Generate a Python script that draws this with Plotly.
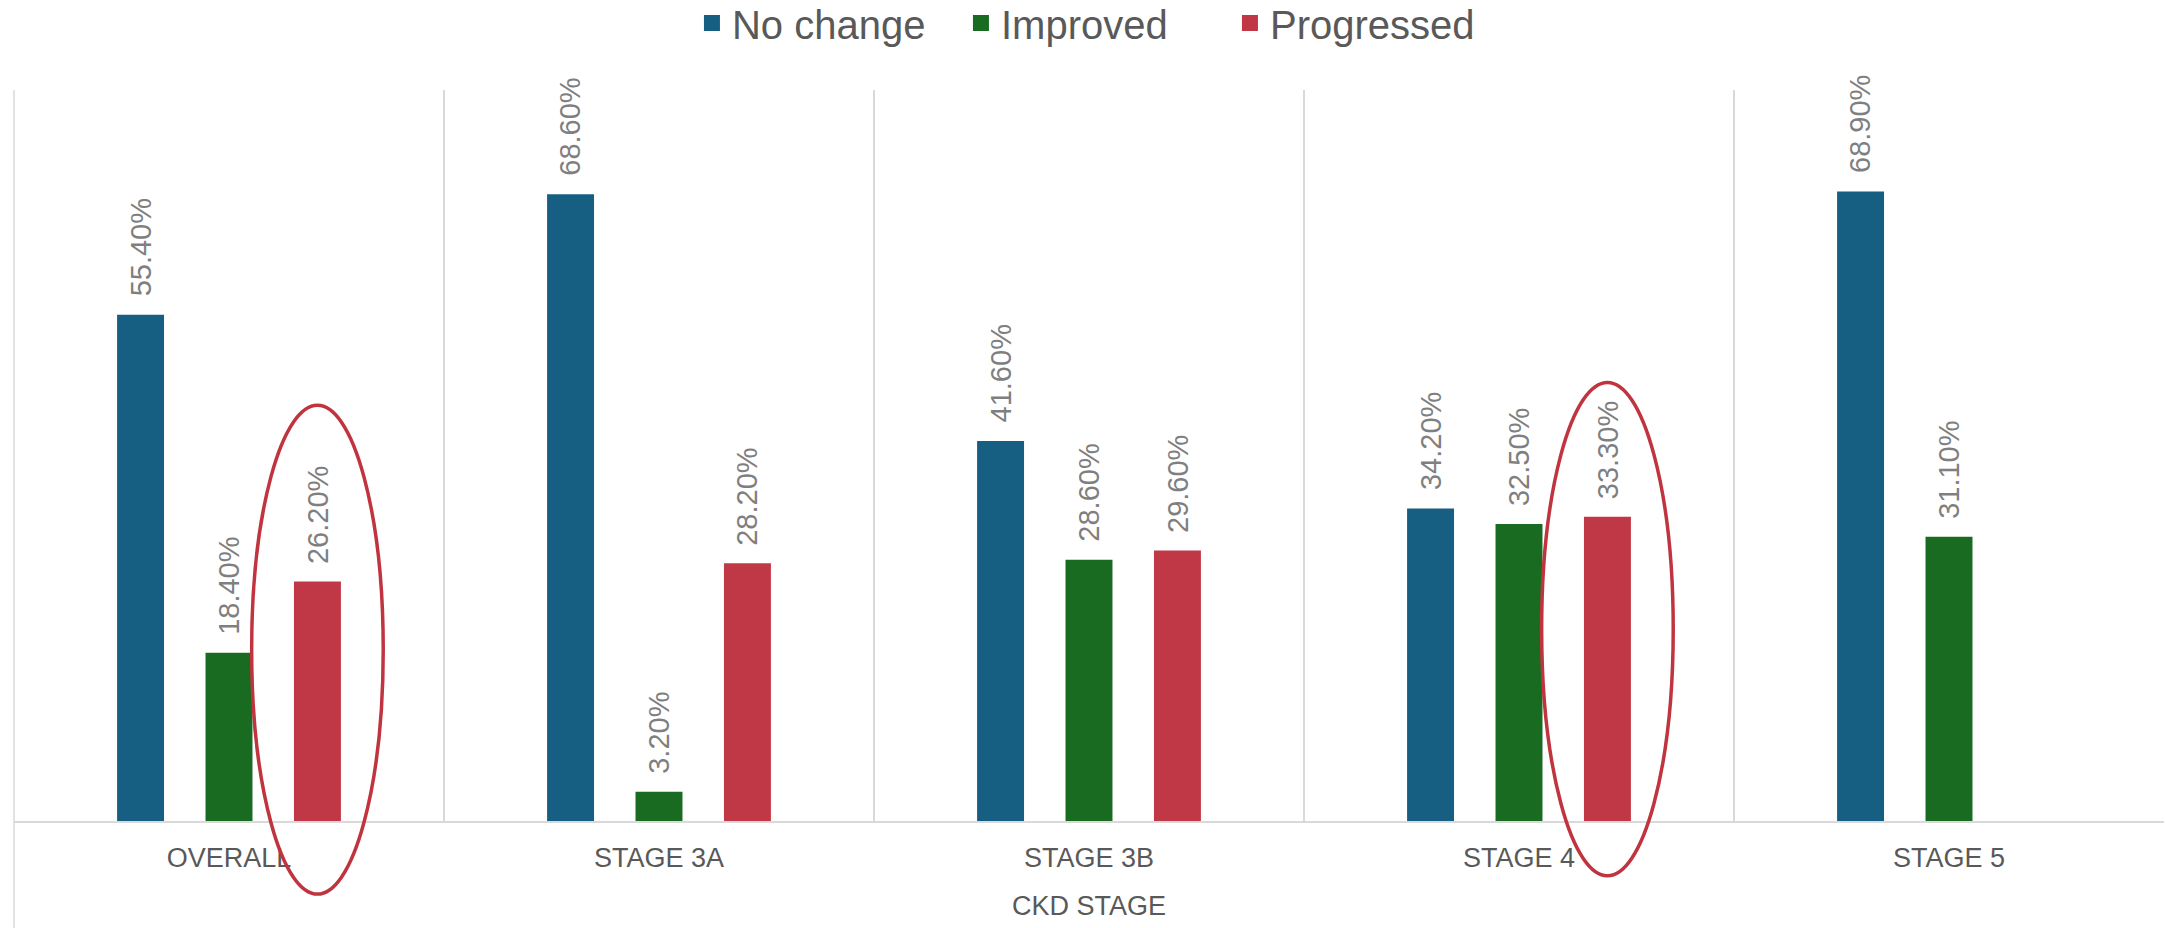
import plotly.graph_objects as go

# ---- data ----
categories = ["OVERALL", "STAGE 3A", "STAGE 3B", "STAGE 4", "STAGE 5"]
no_change = [55.4, 68.6, 41.6, 34.2, 68.9]
improved = [18.4, 3.2, 28.6, 32.5, 31.1]
progressed = [26.2, 28.2, 29.6, 33.3, None]
series_names = ["No change", "Improved", "Progressed"]
x_title = "CKD STAGE"

# highlighted bars (series index, category index, y-extent of the ellipse in data units)
highlights = [(2, 0, -8.0, 45.5), (2, 3, -6.0, 48.0)]

colors = ["#175F82", "#1A6B22", "#C03845"]
series = [no_change, improved, progressed]

BARGAP = 0.383
BARGROUPGAP = 0.469
Y_MAX = 80
slot = (1 - BARGAP) / len(series)

W, H = 2165, 928
M = dict(l=14, r=1, t=90, b=107, autoexpand=False)
FONT = "Liberation Sans, Arial, sans-serif"

fig = go.Figure()
for name, vals, col in zip(series_names, series, colors):
    fig.add_trace(go.Bar(
        name=name, x=categories, y=vals, legendgroup=name, showlegend=False,
        marker=dict(color=col, line=dict(width=0)),
    ))
# legend entries with larger square swatches
for name, col in zip(series_names, colors):
    fig.add_trace(go.Scatter(
        name=name, x=[categories[0]], y=[None], mode="markers", legendgroup=name,
        marker=dict(symbol="square", size=16, color=col), showlegend=True,
        hoverinfo="skip",
    ))

annotations = []
for j, vals in enumerate(series):
    for i, v in enumerate(vals):
        if v is None:
            continue
        annotations.append(dict(
            x=i + (j - 1) * slot, y=v, xref="x", yref="y",
            text=f"{v:.2f}%", showarrow=False, textangle=-90,
            xanchor="center", yanchor="bottom", yshift=16,
            font=dict(family=FONT, size=29, color="#7F7F7F"),
        ))

def xpaper(xv):
    return (xv + 0.5) / len(categories)

def ypaper(yv):
    return yv / Y_MAX

shapes = []
for j, i, ylo, yhi in highlights:
    xc = i + (j - 1) * slot
    half = 0.153
    shapes.append(dict(
        type="circle", xref="paper", yref="paper",
        x0=xpaper(xc - half), x1=xpaper(xc + half),
        y0=ypaper(ylo), y1=ypaper(yhi),
        line=dict(color="#C0343F", width=3.5), fillcolor="rgba(0,0,0,0)", layer="above",
    ))
plot_h = H - M["t"] - M["b"]
shapes.append(dict(
    type="line", xref="paper", yref="paper", x0=0, x1=0,
    y0=-(M["b"]) / plot_h, y1=1,
    line=dict(color="#D9D9D9", width=1.5), layer="below",
))

fig.update_layout(
    width=W, height=H,
    margin=M,
    paper_bgcolor="white", plot_bgcolor="white",
    barmode="group", bargap=BARGAP, bargroupgap=BARGROUPGAP,
    font=dict(family=FONT, color="#595959"),
    showlegend=True,
    legend=dict(
        orientation="h", x=0.503, xanchor="center", y=(H - M["b"] - 23) / plot_h,
        yanchor="middle", font=dict(size=40, color="#595959"),
        bgcolor="rgba(0,0,0,0)", itemclick=False, itemdoubleclick=False,
        entrywidth=224, entrywidthmode="pixels",
    ),
    xaxis=dict(
        type="category", tickson="boundaries", showgrid=True,
        gridcolor="#D9D9D9", gridwidth=1.5,
        showline=True, linecolor="#D9D9D9", linewidth=2,
        ticks="", ticklabelstandoff=12,
        tickfont=dict(size=27, color="#595959"),
        title=dict(text=x_title, font=dict(size=27, color="#595959"), standoff=24),
        automargin=False, range=[-0.5, 4.5],
    ),
    yaxis=dict(range=[0, Y_MAX], visible=False, showgrid=False, zeroline=False),
    annotations=annotations,
    shapes=shapes,
)

fig.write_html("out.html")
